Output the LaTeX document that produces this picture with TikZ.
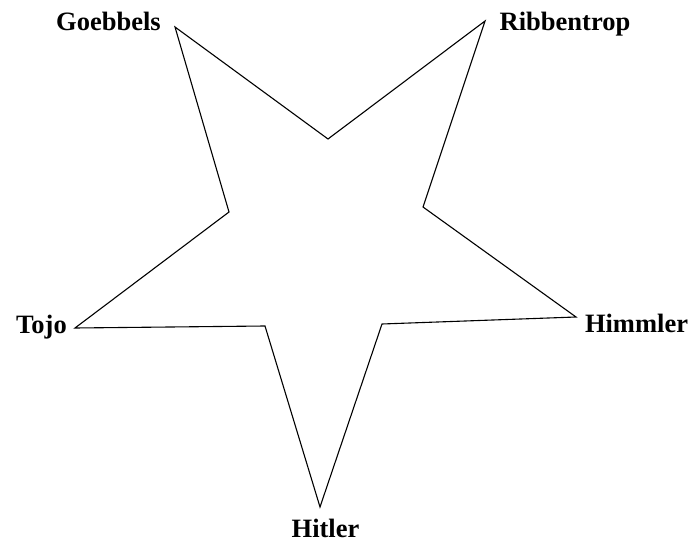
\documentclass[tikz,border=0pt]{standalone}
\usepackage{fontspec}
\setmainfont{Liberation Serif}
\begin{document}
\begin{tikzpicture}[x=1bp,y=-1bp,
  lbl/.style={font=\fontsize{26.5bp}{28bp}\selectfont\bfseries, inner sep=0pt, anchor=base},
  starline/.style={draw=black, line width=1.1bp, line join=miter}]
\useasboundingbox (0,0) rectangle (694,542);
% outer vertices
\coordinate (vG) at (175,27);
\coordinate (vR) at (485,21);
\coordinate (vHi) at (576,317);
\coordinate (vH) at (320,507);
\coordinate (vT) at (75,328);
% inner vertices
\coordinate (iTop) at (328,139);
\coordinate (iRU) at (423,207);
\coordinate (iRL) at (382,324);
\coordinate (iLL) at (265,326);
\coordinate (iLU) at (229,212);
% labels
\node[lbl] (goebbels) at (108.5,31) {Goebbels};
\node[lbl] (ribbentrop) at (565,31) {Ribbentrop};
\node[lbl] (tojo) at (41.5,333) {Tojo};
\node[lbl] (himmler) at (636.5,332) {Himmler};
\node[lbl] (hitler) at (325.5,537) {Hitler};
% star
\draw[starline] (vG) -- (iTop) -- (vR) -- (iRU) -- (vHi) -- (iRL) -- (vH) -- (iLL) -- (vT) -- (iLU) -- cycle;
\end{tikzpicture}
\end{document}
